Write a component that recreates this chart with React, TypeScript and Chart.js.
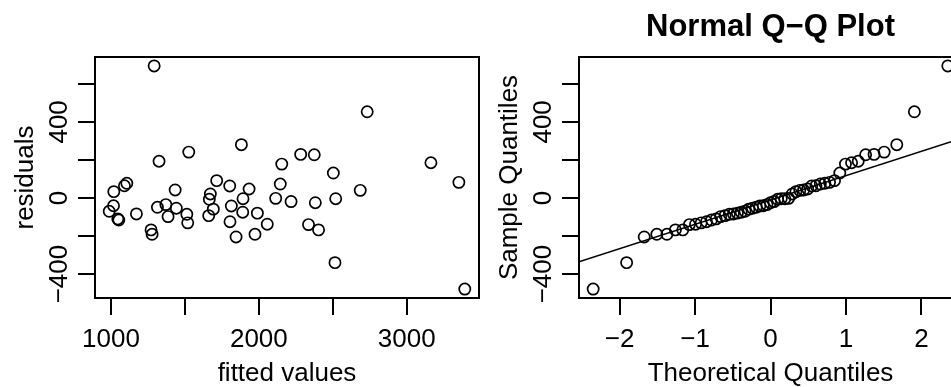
import React, { useEffect, useRef } from "react";
import { Chart, registerables } from "chart.js";

Chart.register(...registerables);

// ---- Data ----
const fittedValues = [1292, 2733, 1882, 1526, 1325, 2283, 2375, 2155, 2504, 3164, 3353, 3393, 2515, 2686, 2520, 2382, 2404, 2336, 2218, 2114, 2145, 2057, 1990, 1974, 1934, 1893, 1891, 1846, 1814, 1805, 1803, 1715, 1672, 1665, 1692, 1661, 1519, 1513, 1442, 1434, 1386, 1371, 1314, 1278, 1271, 1172, 1107, 1091, 1019, 1017, 988, 1046, 1053];
const residualValues = [694, 453, 280, 241, 193, 229, 227, 178, 131, 185, 82, -479, -340, 40, -4, -25, -168, -140, -19, -2, 73, -138, -80, -191, 47, -4, -75, -205, -42, -125, 63, 91, 21, -7, -59, -93, -131, -86, -54, 42, -98, -35, -49, -191, -168, -84, 77, 64, 33, -41, -70, -110, -116];

// theoretical normal quantiles for n = 53 (qnorm(ppoints(53)))
const theoreticalQuantiles = [-2.349, -1.906, -1.673, -1.506, -1.372, -1.260, -1.162, -1.074, -0.993, -0.918, -0.848, -0.782, -0.720, -0.660, -0.602, -0.546, -0.492, -0.439, -0.388, -0.337, -0.288, -0.239, -0.190, -0.142, -0.095, -0.047, 0, 0.047, 0.095, 0.142, 0.190, 0.239, 0.288, 0.337, 0.388, 0.439, 0.492, 0.546, 0.602, 0.660, 0.720, 0.782, 0.848, 0.918, 0.993, 1.074, 1.162, 1.260, 1.372, 1.506, 1.673, 1.906, 2.349];

const qqlineIntercept = -11;
const qqlineSlope = 128;

const leftXTicks = [1000, 1500, 2000, 2500, 3000];
const leftXTickLabels = ["1000", "", "2000", "", "3000"];
const yTicks = [-400, -200, 0, 200, 400, 600];
const yTickLabels = ["\u2212400", "", "0", "", "400", ""];
const qqXTicks = [-2, -1, 0, 1, 2];
const qqXTickLabels = ["\u22122", "\u22121", "0", "1", "2"];

const FONT = '"Liberation Sans", Arial, Helvetica, sans-serif';
const TICK = 17;

function rRange(values: number[]): [number, number] {
  const lo = Math.min(...values);
  const hi = Math.max(...values);
  const pad = (hi - lo) * 0.04;
  return [lo - pad, hi + pad];
}

type AxisCfg = {
  xTicks: number[];
  xLabels: string[];
  yTicks: number[];
  yLabels: string[];
  xTitle: string;
  yTitle: string;
  title?: string;
};

function rAxesPlugin(cfg: AxisCfg) {
  return {
    id: "rAxes",
    afterDraw(chart: any) {
      const { ctx, chartArea: a, scales } = chart;
      const xs = scales.x;
      const ys = scales.y;
      ctx.save();
      ctx.strokeStyle = "#000";
      ctx.fillStyle = "#000";
      ctx.lineWidth = 2;
      ctx.strokeRect(a.left, a.top, a.right - a.left, a.bottom - a.top);
      ctx.beginPath();
      cfg.xTicks.forEach((v) => {
        const px = Math.round(xs.getPixelForValue(v));
        ctx.moveTo(px, a.bottom);
        ctx.lineTo(px, a.bottom + TICK);
      });
      cfg.yTicks.forEach((v) => {
        const py = Math.round(ys.getPixelForValue(v));
        ctx.moveTo(a.left, py);
        ctx.lineTo(a.left - TICK, py);
      });
      ctx.stroke();

      ctx.font = `26px ${FONT}`;
      ctx.textAlign = "center";
      ctx.textBaseline = "alphabetic";
      cfg.xTicks.forEach((v, i) => {
        const lab = cfg.xLabels[i];
        if (!lab) return;
        ctx.fillText(lab, xs.getPixelForValue(v), a.bottom + 49);
      });
      ctx.fillText(cfg.xTitle, (a.left + a.right) / 2, a.bottom + 83);

      cfg.yTicks.forEach((v, i) => {
        const lab = cfg.yLabels[i];
        if (!lab) return;
        ctx.save();
        ctx.translate(a.left - 28, ys.getPixelForValue(v));
        ctx.rotate(-Math.PI / 2);
        ctx.fillText(lab, 0, 0);
        ctx.restore();
      });
      ctx.save();
      ctx.translate(a.left - 62, (a.top + a.bottom) / 2);
      ctx.rotate(-Math.PI / 2);
      ctx.fillText(cfg.yTitle, 0, 0);
      ctx.restore();

      if (cfg.title) {
        ctx.font = `bold 31px ${FONT}`;
        ctx.fillText(cfg.title, (a.left + a.right) / 2, a.top - 21);
      }
      ctx.restore();
    },
  };
}

const pointStyle = {
  pointRadius: 5.6,
  pointBorderWidth: 1.7,
  pointBorderColor: "#000",
  pointBackgroundColor: "rgba(0,0,0,0)",
  pointHoverRadius: 5.6,
  showLine: false,
};

export default function App() {
  const leftRef = useRef<HTMLCanvasElement>(null);
  const rightRef = useRef<HTMLCanvasElement>(null);

  useEffect(() => {
    const [xMin, xMax] = rRange(fittedValues);
    const [yMin, yMax] = rRange(residualValues);
    const [qMin, qMax] = rRange(theoreticalQuantiles);
    const sorted = [...residualValues].sort((a, b) => a - b);

    const c1 = new Chart(leftRef.current!, {
      type: "scatter",
      data: {
        datasets: [
          {
            data: fittedValues.map((x, i) => ({ x, y: residualValues[i] })),
            ...pointStyle,
          } as any,
        ],
      },
      options: {
        responsive: false,
        animation: false,
        devicePixelRatio: 1,
        events: [],
        layout: { autoPadding: false, padding: { left: 95, right: 1, top: 57, bottom: 89 } },
        scales: {
          x: { type: "linear", display: false, min: xMin, max: xMax },
          y: { type: "linear", display: false, min: yMin, max: yMax },
        },
        plugins: { legend: { display: false }, tooltip: { enabled: false } },
      } as any,
      plugins: [
        rAxesPlugin({
          xTicks: leftXTicks,
          xLabels: leftXTickLabels,
          yTicks,
          yLabels: yTickLabels,
          xTitle: "fitted values",
          yTitle: "residuals",
        }),
      ],
    });

    const c2 = new Chart(rightRef.current!, {
      type: "scatter",
      data: {
        datasets: [
          {
            data: theoreticalQuantiles.map((x, i) => ({ x, y: sorted[i] })),
            ...pointStyle,
          } as any,
          {
            data: [qMin, qMax].map((x) => ({ x, y: qqlineIntercept + qqlineSlope * x })),
            showLine: true,
            pointRadius: 0,
            borderColor: "#000",
            borderWidth: 1.5,
            fill: false,
          } as any,
        ],
      },
      options: {
        responsive: false,
        animation: false,
        devicePixelRatio: 1,
        events: [],
        layout: { autoPadding: false, padding: { left: 99, right: 18, top: 57, bottom: 89 } },
        scales: {
          x: { type: "linear", display: false, min: qMin, max: qMax },
          y: { type: "linear", display: false, min: yMin, max: yMax },
        },
        plugins: { legend: { display: false }, tooltip: { enabled: false } },
      } as any,
      plugins: [
        rAxesPlugin({
          xTicks: qqXTicks,
          xLabels: qqXTickLabels,
          yTicks,
          yLabels: yTickLabels,
          xTitle: "Theoretical Quantiles",
          yTitle: "Sample Quantiles",
          title: "Normal Q\u2212Q Plot",
        }),
      ],
    });

    return () => {
      c1.destroy();
      c2.destroy();
    };
  }, []);

  return (
    <div
      style={{
        position: "fixed",
        left: 0,
        top: 0,
        width: 951,
        height: 387,
        overflow: "hidden",
        background: "#fff",
      }}
    >
      <canvas
        ref={leftRef}
        width={480}
        height={387}
        style={{ position: "absolute", left: 0, top: 0, width: 480, height: 387 }}
      />
      <canvas
        ref={rightRef}
        width={500}
        height={387}
        style={{ position: "absolute", left: 480, top: 0, width: 500, height: 387 }}
      />
    </div>
  );
}
